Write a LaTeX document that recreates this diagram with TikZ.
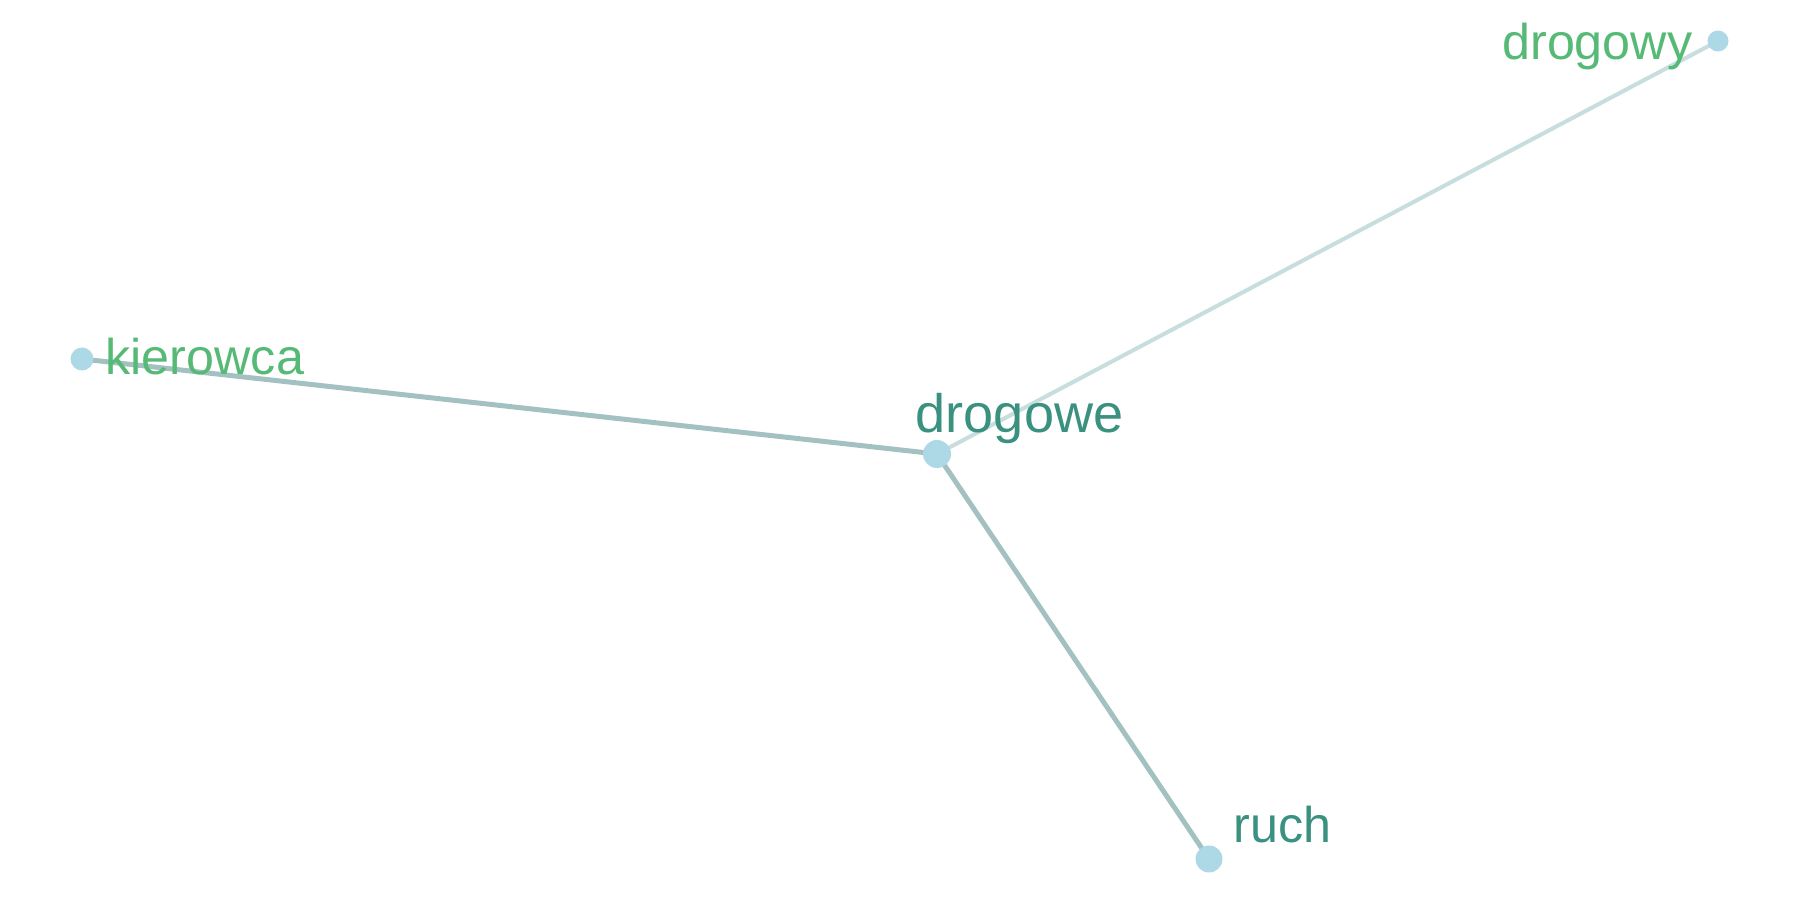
\documentclass[tikz,border=0pt]{standalone}
\usepackage{fontspec}
\setmainfont{Liberation Sans}
\usepackage{tikz}
\usetikzlibrary{positioning,backgrounds}
\usepackage{xcolor}
\definecolor{dotblue}{RGB}{173,216,230}
\definecolor{wordgreen}{RGB}{86,186,118}
\definecolor{wordteal}{RGB}{58,145,128}
\definecolor{edgegray}{RGB}{163,193,193}
\definecolor{edgelight}{RGB}{200,222,222}
\tikzset{
  dot/.style={circle, fill=dotblue, inner sep=0pt},
  word/.style={inner sep=0pt, font=\fontsize{14.3}{17}\selectfont},
  wordgreen/.style={word, text=wordgreen},
  wordteal/.style={word, text=wordteal},
  link/.style={line width=1.42pt, edgegray},
  linklight/.style={line width=1.15pt, edgelight},
}

\begin{document}
\begin{tikzpicture}
\useasboundingbox (0,0) rectangle (18,9);
\node[dot, minimum size=2.8mm] (drogowe) at (9.37,4.46) {};
\node[dot, minimum size=2.1mm] (drogowy) at (17.18,8.59) {};
\node[dot, minimum size=2.3mm] (kierowca) at (0.82,5.41) {};
\node[dot, minimum size=2.7mm] (ruch) at (12.09,0.41) {};

\begin{scope}[on background layer]
\foreach \a/\b in {drogowe/kierowca, drogowe/ruch}
  \draw[link] (\a.center) -- (\b.center);
\draw[linklight] (drogowe.center) -- (drogowy.center);
\end{scope}

\node[wordteal, anchor=base west, font=\fontsize{15.4}{18}\selectfont] (drogowetxt) at ([shift={(-0.22,0.21)}]drogowe) {drogowe};
\node[wordgreen, anchor=base east] (drogowytxt) at ([shift={(-0.25,-0.19)}]drogowy) {drogowy};
\node[wordgreen, anchor=base west] (kierowcatxt) at ([shift={(0.23,-0.16)}]kierowca) {kierowca};
\node[wordteal, anchor=base west] (ruchtxt) at ([shift={(0.24,0.17)}]ruch) {ruch};
\end{tikzpicture}
\end{document}
